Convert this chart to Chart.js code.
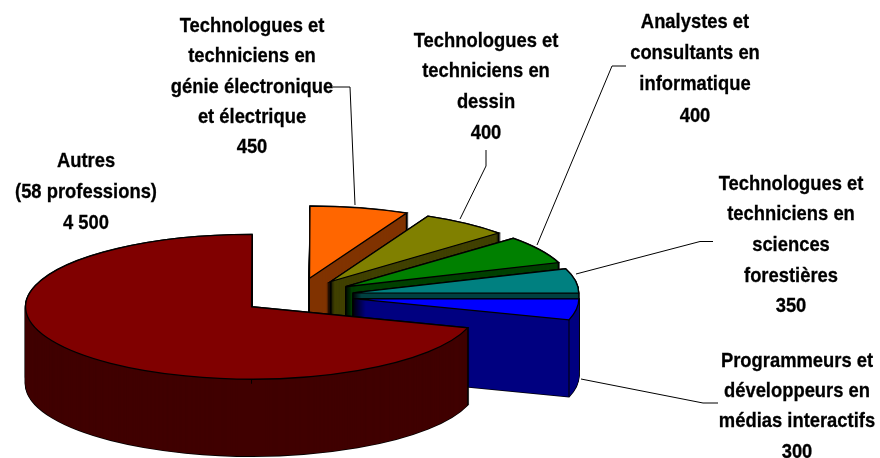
<!DOCTYPE html>
<html lang="fr">
<head>
<meta charset="utf-8">
<title>Professions</title>
<script src="https://cdn.jsdelivr.net/npm/chart.js@4"></script>
<style>
  html, body { margin: 0; padding: 0; background: #fff; }
  canvas { display: block; }
</style>
</head>
<body>
<canvas id="myChart" width="880" height="458"></canvas>
<script>
// Data
const categories = [
    ['Autres', '(58 professions)'],
    ['Technologues et', 'techniciens en', 'génie électronique', 'et électrique'],
    ['Technologues et', 'techniciens en', 'dessin'],
    ['Analystes et', 'consultants en', 'informatique'],
    ['Technologues et', 'techniciens en', 'sciences', 'forestières'],
    ['Programmeurs et', 'développeurs en', 'médias interactifs']
];
const values = [4500, 450, 400, 400, 350, 300];
const topColors = ['#800000', '#FF6600', '#808000', '#008000', '#008080', '#0000FF'];
const sideColors = ['#400000', '#803300', '#404000', '#004000', '#004040', '#000080'];

// Pie geometry on the page
const CENTER_X = 297;
const CENTER_Y = 296;
const SQUASH = 0.32;
const DEPTH = 77;
const EXPLODE = 56.5;

// Label placement: centre x, y of the first line, line step
const labelSpots = [
    [86, 161, 31],
    [252, 26, 30.4],
    [486, 41, 30.7],
    [695, 22, 31.3],
    [791, 184, 30.6],
    [797, 361, 30.3]
];
const leaderLines = [
    [[333, 87], [350, 87], [355, 205]],
    [[486, 150], [486, 166], [460, 219]],
    [[626, 66], [612, 66], [537, 245]],
    [[713, 241.5], [700, 241.5], [576, 274]],
    [[581, 379], [703, 403], [718, 403]]
];

function formatValue(v) {
    return String(v).replace(/\B(?=(\d{3})+$)/g, ' ');
}

// Move the context so that the arc is drawn squashed and pulled out of the pie
function placeSlice(ctx, arc, drop) {
    const mid = (arc.startAngle + arc.endAngle) / 2;
    const dx = Math.cos(mid) * EXPLODE;
    const dy = Math.sin(mid) * EXPLODE * SQUASH;
    ctx.translate(CENTER_X + dx, CENTER_Y + dy + drop);
    ctx.scale(1, SQUASH);
}

function tracePath(ctx, arc) {
    ctx.beginPath();
    ctx.moveTo(0, 0);
    ctx.arc(0, 0, arc.outerRadius, arc.startAngle, arc.endAngle);
    ctx.closePath();
}

function drawSlice(ctx, arc, index) {
    // black halo of the walls, then the walls over it
    ctx.strokeStyle = '#000';
    ctx.lineWidth = 1.5;
    for (let drop = DEPTH; drop >= 0; drop--) {
        ctx.save();
        placeSlice(ctx, arc, drop);
        tracePath(ctx, arc);
        ctx.restore();
        ctx.stroke();
    }
    ctx.fillStyle = sideColors[index];
    for (let drop = DEPTH; drop >= 0; drop--) {
        ctx.save();
        placeSlice(ctx, arc, drop);
        tracePath(ctx, arc);
        ctx.fill();
        ctx.restore();
    }

    // vertical edges of the cut face
    const mid = (arc.startAngle + arc.endAngle) / 2;
    const apexX = CENTER_X + Math.cos(mid) * EXPLODE;
    const apexY = CENTER_Y + Math.sin(mid) * EXPLODE * SQUASH;
    const cornerX = apexX + Math.cos(arc.endAngle) * arc.outerRadius;
    const cornerY = apexY + Math.sin(arc.endAngle) * arc.outerRadius * SQUASH;
    ctx.lineWidth = 1;
    ctx.beginPath();
    ctx.moveTo(apexX, apexY);
    ctx.lineTo(apexX, apexY + DEPTH);
    ctx.moveTo(cornerX, cornerY);
    ctx.lineTo(cornerX, cornerY + DEPTH);
    ctx.stroke();

    // top face comes from the library element
    ctx.save();
    placeSlice(ctx, arc, 0);
    ctx.translate(-arc.x, -arc.y);
    arc.draw(ctx);
    ctx.restore();

    ctx.save();
    placeSlice(ctx, arc, 0);
    tracePath(ctx, arc);
    ctx.restore();
    ctx.lineWidth = 1.3;
    ctx.stroke();
}

const piePlugin = {
    id: 'pie3d',
    beforeDatasetDraw(chart, args) {
        const ctx = chart.ctx;
        const arcs = chart.getDatasetMeta(args.index).data;
        // back slices first, the big one last because it is in front
        for (let i = 1; i < arcs.length; i++) drawSlice(ctx, arcs[i], i);
        drawSlice(ctx, arcs[0], 0);
        return false;
    },
    afterDatasetsDraw(chart) {
        const ctx = chart.ctx;
        ctx.save();
        ctx.strokeStyle = '#000';
        ctx.lineWidth = 1;
        leaderLines.forEach(line => {
            ctx.beginPath();
            line.forEach((p, i) => i ? ctx.lineTo(p[0], p[1]) : ctx.moveTo(p[0], p[1]));
            ctx.stroke();
        });

        ctx.fillStyle = '#000';
        ctx.lineWidth = 0.3;
        ctx.font = 'bold 21px "Liberation Sans", Arial, sans-serif';
        ctx.textAlign = 'center';
        ctx.textBaseline = 'middle';
        categories.forEach((lines, i) => {
            const [x, y, step] = labelSpots[i];
            lines.concat(formatValue(values[i])).forEach((text, n) => {
                ctx.save();
                ctx.translate(x, y + n * step);
                ctx.scale(0.875, 1);
                ctx.fillText(text, 0, 0);
                ctx.strokeText(text, 0, 0);
                ctx.restore();
            });
        });
        ctx.restore();
    }
};

new Chart(document.getElementById('myChart').getContext('2d'), {
    type: 'pie',
    data: {
        labels: categories.map(lines => lines.join(' ')),
        datasets: [{
            data: values,
            backgroundColor: topColors,
            borderWidth: 0
        }]
    },
    options: {
        responsive: false,
        animation: false,
        rotation: 107,
        radius: 226,
        plugins: {
            legend: { display: false },
            tooltip: { enabled: false }
        }
    },
    plugins: [piePlugin]
});
</script>
</body>
</html>
